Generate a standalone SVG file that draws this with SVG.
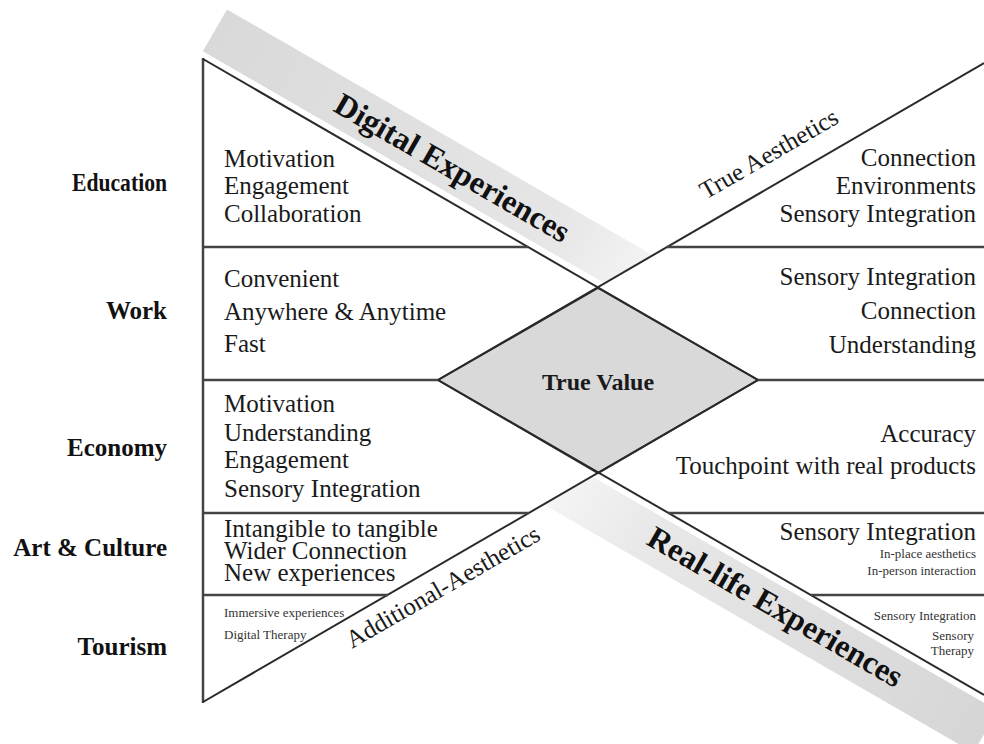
<svg xmlns="http://www.w3.org/2000/svg" width="984" height="744" viewBox="0 0 984 744">
<defs>
<linearGradient id="gDig" gradientUnits="userSpaceOnUse" x1="203" y1="59" x2="653" y2="319">
<stop offset="0" stop-color="#d9d9d9"/>
<stop offset="0.75" stop-color="#e6e6e6"/>
<stop offset="1" stop-color="#f8f8f8"/>
</linearGradient>
<linearGradient id="gReal" gradientUnits="userSpaceOnUse" x1="520" y1="440" x2="985" y2="712">
<stop offset="0" stop-color="#fbfbfb"/>
<stop offset="0.3" stop-color="#e8e8e8"/>
<stop offset="1" stop-color="#d6d6d6"/>
</linearGradient>
<style>
.t{font-family:"Liberation Serif","Times New Roman",serif;fill:#1a1a1a}
.m{font-size:25px}
.lab{font-size:25px;font-weight:bold;text-anchor:end;fill:#111}
.r{text-anchor:end}
.s{font-size:13px;fill:#333}
.big{font-size:32px;font-weight:bold;text-anchor:middle;fill:#111}
.ae{font-size:25px;text-anchor:middle}
.ln{stroke:#2a2a2a;stroke-width:2;fill:none}
.hl{stroke:#444;stroke-width:2.5;fill:none}
</style>
</defs>
<rect width="984" height="744" fill="#fff"/>
<g id="bands">
<polygon points="202.8,51.3 227,9.4 680.8,271.4 656.6,313.3" fill="url(#gDig)"/>
<polygon points="521.3,435.7 497.1,477.6 973.4,752.6 997.6,710.7" fill="url(#gReal)"/>
</g>
<g id="regions">
<polygon id="left-triangle" points="203,59 758,380 203,702" fill="#fff"/>
<polygon id="right-triangle" points="984,63 438,380 984,695" fill="#fff"/>
</g>
<g id="true-value">
<polygon points="598,288 758,380 598,473 438,380" fill="#d9d9d9" stroke="#2a2a2a" stroke-width="2"/>
<text class="t" x="598" y="390" font-size="24" font-weight="bold" text-anchor="middle" fill="#111">True Value</text>
</g>
<g id="connectors">
<line class="hl" x1="203" y1="58" x2="203" y2="703"/>
<line class="ln" x1="203" y1="59" x2="758" y2="380"/>
<line class="ln" x1="203" y1="702" x2="758" y2="380"/>
<line class="ln" x1="438" y1="380" x2="984" y2="63"/>
<line class="ln" x1="438" y1="380" x2="984" y2="695"/>
<line class="hl" x1="203" y1="247" x2="528" y2="247"/>
<line class="hl" x1="667" y1="247" x2="984" y2="247"/>
<line class="hl" x1="203" y1="380" x2="438" y2="380"/>
<line class="hl" x1="758" y1="380" x2="984" y2="380"/>
<line class="hl" x1="203" y1="513" x2="529" y2="513"/>
<line class="hl" x1="668" y1="513" x2="984" y2="513"/>
<line class="hl" x1="203" y1="595" x2="388" y2="595"/>
<line class="hl" x1="811" y1="595" x2="984" y2="595"/>
</g>
<g id="band-titles">
<text class="t big" transform="translate(447,177) rotate(30)">Digital Experiences</text>
<text class="t big" transform="translate(770,616) rotate(30)">Real-life Experiences</text>
<text class="t ae" transform="translate(773,161) rotate(-30)">True Aesthetics</text>
<text class="t ae" transform="translate(447,594) rotate(-30)">Additional-Aesthetics</text>
</g>
<g id="row-labels">
<text class="t lab" x="167" y="191" textLength="95" lengthAdjust="spacingAndGlyphs">Education</text>
<text class="t lab" x="167" y="319">Work</text>
<text class="t lab" x="167" y="456">Economy</text>
<text class="t lab" x="167" y="556">Art &amp; Culture</text>
<text class="t lab" x="167" y="655">Tourism</text>
</g>
<g id="education">
<text class="t m" x="224" y="167">Motivation</text>
<text class="t m" x="224" y="194">Engagement</text>
<text class="t m" x="224" y="222">Collaboration</text>
<text class="t m r" x="976" y="166">Connection</text>
<text class="t m r" x="976" y="194">Environments</text>
<text class="t m r" x="976" y="222">Sensory Integration</text>
</g>
<g id="work">
<text class="t m" x="224" y="287">Convenient</text>
<text class="t m" x="224" y="320">Anywhere &amp; Anytime</text>
<text class="t m" x="224" y="352">Fast</text>
<text class="t m r" x="976" y="285">Sensory Integration</text>
<text class="t m r" x="976" y="319">Connection</text>
<text class="t m r" x="976" y="353">Understanding</text>
</g>
<g id="economy">
<text class="t m" x="224" y="412">Motivation</text>
<text class="t m" x="224" y="441">Understanding</text>
<text class="t m" x="224" y="468">Engagement</text>
<text class="t m" x="224" y="497">Sensory Integration</text>
<text class="t m r" x="976" y="442">Accuracy</text>
<text class="t m r" x="976" y="474">Touchpoint with real products</text>
</g>
<g id="art-culture">
<text class="t m" x="224" y="537" font-size="24.5">Intangible to tangible</text>
<text class="t m" x="224" y="559" font-size="24.5">Wider Connection</text>
<text class="t m" x="224" y="581" font-size="24.5">New experiences</text>
<text class="t m r" x="976" y="540">Sensory Integration</text>
<text class="t s r" x="976" y="558">In-place aesthetics</text>
<text class="t s r" x="976" y="575">In-person interaction</text>
</g>
<g id="tourism">
<text class="t s" x="224" y="617">Immersive experiences</text>
<text class="t s" x="224" y="639">Digital Therapy</text>
<text class="t s r" x="976" y="620">Sensory Integration</text>
<text class="t s r" x="974" y="640">Sensory</text>
<text class="t s r" x="974" y="655">Therapy</text>
</g>
</svg>
